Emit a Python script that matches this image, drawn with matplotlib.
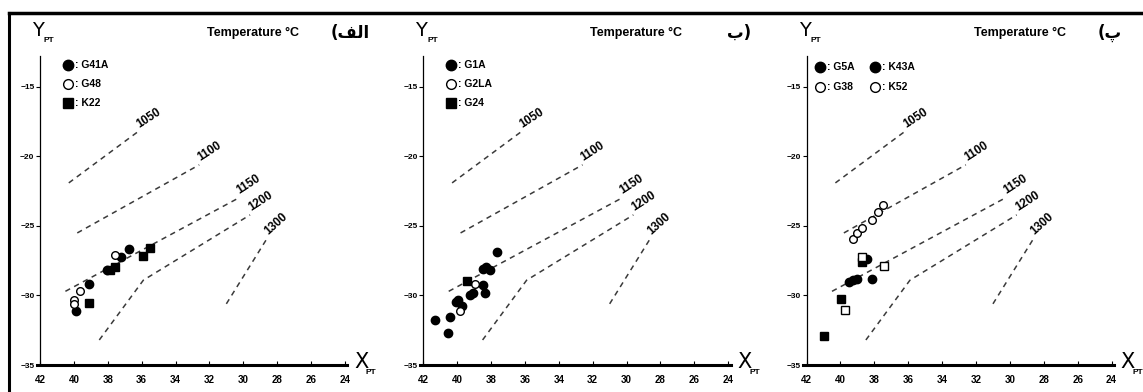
import matplotlib
matplotlib.use("Agg")
import matplotlib.pyplot as plt
from matplotlib.lines import Line2D

plt.rcParams['font.family'] = ['Liberation Sans Narrow', 'Liberation Sans', 'DejaVu Sans']

# isotherms (same on every panel)
iso_temps = ['1050', '1100', '1150', '1200', '1300']
iso_x = [[40.3, 36.2], [39.8, 32.6], [40.5, 30.3], [38.5, 35.9, 29.6], [31.0, 28.6]]
iso_y = [[-21.9, -18.2], [-25.5, -20.6], [-29.7, -23.0], [-33.2, -28.9, -24.2], [-30.6, -25.9]]

# panel 1 (الف)
p1_g41a_x = [39.88, 39.09, 36.73, 37.24, 38.06]
p1_g41a_y = [-31.1, -29.17, -26.63, -27.25, -28.2]
p1_g48_x = [37.57, 39.64, 39.99, 39.99]
p1_g48_y = [-27.1, -29.65, -30.3, -30.6]
p1_k22_x = [39.09, 37.57, 35.9, 35.5, 37.87]
p1_k22_y = [-30.56, -27.97, -27.16, -26.6, -28.2]

# panel 2 (ب)
p2_g1a_x = [41.31, 40.42, 40.52, 40.07, 39.93, 39.73, 39.24, 39.05, 38.46, 38.36, 38.46, 38.3, 38.06, 37.63]
p2_g1a_y = [-31.76, -31.53, -32.72, -30.45, -30.32, -30.76, -29.96, -29.84, -29.24, -29.84, -28.07, -27.97, -28.2, -26.89]
p2_g2la_x = [38.95, 39.83]
p2_g2la_y = [-29.17, -31.1]
p2_g24_x = [39.44]
p2_g24_y = [-28.94]

# panel 3 (پ)
p3_g5a_x = [38.42, 39.49, 39.25, 39.05, 38.16]
p3_g5a_y = [-27.4, -29.0, -28.9, -28.83, -28.81]
p3_k43a_x = [38.75, 39.94, 40.98]
p3_k43a_y = [-27.57, -30.27, -32.91]
p3_g38_x = [39.28, 39.05, 38.75, 38.16, 37.77, 37.48]
p3_g38_y = [-25.96, -25.53, -25.17, -24.57, -23.97, -23.49]
p3_k52_x = [38.75, 37.44, 39.74]
p3_k52_y = [-27.25, -27.86, -31.04]

x_ticks = [42, 40, 38, 36, 34, 32, 30, 28, 26, 24]
y_ticks = [-35, -30, -25, -20, -15]
tags = ['(ﻒﻟﺍ', 'ﺏ)', '(ﭖ']

filled_c = dict(marker='o', ls='none', ms=6, mfc='black', mec='black')
open_c = dict(marker='o', ls='none', ms=5.5, mfc='white', mec='black', mew=1)
filled_s = dict(marker='s', ls='none', ms=5.5, mfc='black', mec='black')
open_s = dict(marker='s', ls='none', ms=5.5, mfc='white', mec='black', mew=1)

panels = [
    [(p1_g41a_x, p1_g41a_y, filled_c), (p1_g48_x, p1_g48_y, open_c), (p1_k22_x, p1_k22_y, filled_s)],
    [(p2_g1a_x, p2_g1a_y, filled_c), (p2_g2la_x, p2_g2la_y, open_c), (p2_g24_x, p2_g24_y, filled_s)],
    [(p3_g5a_x, p3_g5a_y, filled_c), (p3_k43a_x, p3_k43a_y, filled_s),
     (p3_g38_x, p3_g38_y, open_c), (p3_k52_x, p3_k52_y, open_s)],
]
legends = [
    [(filled_c, ': G41A'), (open_c, ': G48'), (filled_s, ': K22')],
    [(filled_c, ': G1A'), (open_c, ': G2LA'), (filled_s, ': G24')],
    [(filled_c, ': G5A'), (open_c, ': G38'), (filled_c, ': K43A'), (open_c, ': K52')],
]

W, H = 1143, 392
fig = plt.figure(figsize=(W / 100, H / 100), dpi=100)

# outer frame
fig.add_artist(Line2D([9 / W, 1], [1 - 12.5 / H] * 2, color='black', lw=2.5))
fig.add_artist(Line2D([9 / W] * 2, [0, 1 - 12.5 / H], color='black', lw=2.2))

for i in range(3):
    off = i * 383.3
    ax = fig.add_axes([(36.6 + off) / W, 27 / H, 310.9 / W, 308.6 / H])
    ax.set_xlim(42.2, 23.85)
    ax.set_ylim(-35, -12.8)
    ax.spines['top'].set_visible(False)
    ax.spines['right'].set_visible(False)
    ax.spines['left'].set_position(('data', 42))
    ax.spines['left'].set_bounds(-35, -12.8)
    ax.spines['bottom'].set_linewidth(2.2)
    ax.spines['left'].set_linewidth(0.9)
    ax.set_xticks(x_ticks)
    ax.set_yticks(y_ticks)
    ax.tick_params(axis='x', direction='in', length=3, width=0.8, pad=7,
                   labelsize=7)
    ax.tick_params(axis='y', direction='out', length=3, width=0.8, pad=1,
                   labelsize=6)
    for lab in ax.get_xticklabels() + ax.get_yticklabels():
        lab.set_fontweight('bold')
    ax.patch.set_alpha(0)

    for k in range(len(iso_temps)):
        ax.plot(iso_x[k], iso_y[k], color='#3a3a3a', lw=1.1, dashes=(3.5, 3))
        rot = 42 if iso_temps[k] == '1300' else 33
        ax.annotate(iso_temps[k], (iso_x[k][-1], iso_y[k][-1]), xytext=(2, 1),
                    textcoords='offset points', rotation=rot, rotation_mode='anchor',
                    ha='left', va='bottom', fontsize=8.5, fontweight='bold')

    for xs, ys, st in panels[i]:
        ax.plot(xs, ys, **st)

    # legend
    entries = legends[i]
    if i < 2:
        spots = [(68 + off, 65 + 19 * r) for r in range(3)]
    else:
        spots = [(820, 67), (820, 87), (875, 67), (875, 87)]
    for (st, lab), (px, py) in zip(entries, spots):
        st2 = dict(st)
        st2['ms'] = st2['ms'] + 1.5
        fig.add_artist(Line2D([px / W], [1 - py / H], **st2))
        fig.text((px + 7) / W, 1 - py / H, lab, fontsize=7.5, fontweight='bold',
                 va='center', ha='left')

    # axis labels
    fig.text((32 + off) / W, 1 - 30 / H, 'Y', fontsize=14, va='center', ha='left',
             family=['DejaVu Sans'])
    fig.text((44 + off) / W, 1 - 40 / H, 'PT', fontsize=6, fontweight='bold',
             va='center', ha='left')
    fig.text((354 + off) / W, 1 - 362 / H, 'X', fontsize=15, va='center', ha='left',
             family=['DejaVu Sans'])
    fig.text((366 + off) / W, 1 - 373 / H, 'PT', fontsize=6, fontweight='bold',
             va='center', ha='left')

    fig.text((207 + off) / W, 1 - 33 / H, 'Temperature \u00b0C', fontsize=9,
             fontweight='bold', va='center', ha='left')
    if i == 1:
        fig.text(727 / W, 1 - 33 / H, tags[i], fontsize=12,
                 fontweight='bold', va='center', ha='left', family=['DejaVu Sans'])
    else:
        fig.text((331 + off) / W, 1 - 33 / H, tags[i], fontsize=12,
                 fontweight='bold', va='center', ha='left', family=['DejaVu Sans'])

fig.savefig('out.png', dpi=100)
